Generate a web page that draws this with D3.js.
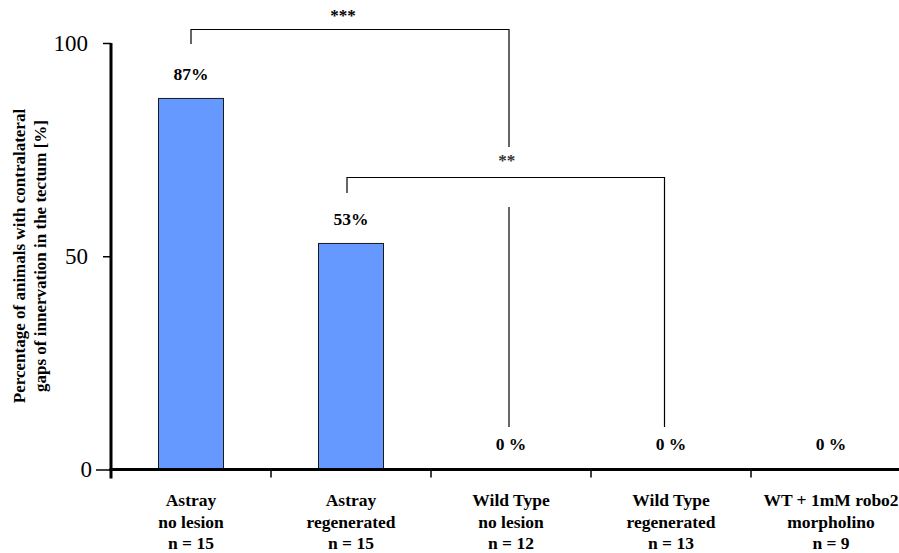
<!DOCTYPE html>
<html>
<head>
<meta charset="utf-8">
<script src="https://cdn.jsdelivr.net/npm/d3@7"></script>
<style>
  html, body { margin: 0; padding: 0; background: #fff; }
  svg { display: block; }
  svg text { font-family: "Liberation Serif", "Times New Roman", serif; fill: #000; }
</style>
</head>
<body>
<svg id="chart" width="899" height="553"></svg>
<script>
// Groups on the x axis (one entry per label line)
const groupLines = [
  ["Astray", "no lesion", "n = 15"],
  ["Astray", "regenerated", "n = 15"],
  ["Wild Type", "no lesion", "n = 12"],
  ["Wild Type", "regenerated", "n = 13"],
  ["WT + 1mM robo2", "morpholino", "n = 9"]
];
const groupIds = ["astray-nl", "astray-reg", "wt-nl", "wt-reg", "wt-robo2"];
// Percentage of animals with gaps of innervation
const percentValues = [87, 53, 0, 0, 0];
const percentLabels = ["87%", "53%", "0 %", "0 %", "0 %"];
const yTicks = [0, 50, 100];
// Significance brackets: [from group, to group, stars]
const brackets = [
  { from: 0, to: 2, stars: "***" },
  { from: 1, to: 3, stars: "**" }
];

const SERIF = "'Liberation Serif', 'Times New Roman', serif";
const svg = d3.select("#chart");
const x0 = 111, y0 = 469.5, yTop = 43;

const x = d3.scaleBand().domain(groupIds).range([x0, x0 + 800]).padding(0);
const y = d3.scaleLinear().domain([0, 100]).range([y0, yTop]);
const cx = i => x(groupIds[i]) + x.bandwidth() / 2;
const barW = 65;

// bars
svg.append("g").selectAll("rect")
  .data(percentValues.map((v, i) => ({ v, i })).filter(d => d.v > 0))
  .join("rect")
  .attr("x", d => cx(d.i) - barW / 2)
  .attr("y", d => y(d.v))
  .attr("width", barW)
  .attr("height", d => y0 - y(d.v))
  .attr("fill", "#6699ff")
  .attr("stroke", "#1a1a1a")
  .attr("stroke-width", 1);

// value labels above bars
svg.append("g").selectAll("text")
  .data(percentValues)
  .join("text")
  .attr("x", (d, i) => cx(i))
  .attr("y", d => d > 0 ? y(d) - 18 : 450)
  .attr("text-anchor", "middle")
  .style("font-weight", "bold")
  .style("font-size", "17.5px")
  .text((d, i) => percentLabels[i]);

// significance brackets
const bg = svg.append("g").attr("fill", "none").attr("stroke", "#000").attr("stroke-width", 1.2);
// *** : Astray no lesion vs Wild Type no lesion
{
  const b = brackets[0];
  const xa = cx(b.from), xb = cx(b.to) - 2, yb = 29.5;
  bg.append("path").attr("d", `M${xa},${yTop + 1}V${yb}H${xb}V147`);
  bg.append("path").attr("d", `M${xb},207V427`);
  svg.append("text").attr("x", (xa + xb) / 2 - 7).attr("y", 21)
    .attr("text-anchor", "middle")
    .style("font-weight", "bold").style("font-size", "17px")
    .text(b.stars);
}
// ** : Astray regenerated vs Wild Type regenerated
{
  const b = brackets[1];
  const xa = cx(b.from) - 4, xb = cx(b.to) - 6.5, yb = 177.5;
  bg.append("path").attr("d", `M${xa},193V${yb}H${xb}V427`);
  svg.append("text").attr("x", (xa + xb) / 2 + 1).attr("y", 166)
    .attr("text-anchor", "middle")
    .style("font-weight", "bold").style("font-size", "17px").style("fill", "#333")
    .text(b.stars);
}

// y axis
const yAxis = svg.append("g")
  .attr("transform", `translate(${x0},0)`)
  .call(d3.axisLeft(y).tickValues(yTicks).tickSize(8).tickFormat(d3.format("d")));
yAxis.attr("font-size", null).attr("font-family", null);
yAxis.select(".domain").attr("stroke-width", 3).attr("d", `M0,${yTop}V${y0 + 1.5}`);
yAxis.selectAll(".tick line").attr("stroke-width", 1.5)
  .attr("x2", d => d === 0 ? -15 : -8);
yAxis.selectAll(".tick text")
  .attr("font-size", 23)
  .style("font-family", SERIF)
  .style("font-size", "23px")
  .style("font-weight", "normal")
  .attr("x", d => d === 0 ? -19 : -23)
  .attr("dy", "0.32em");

// x axis line with boundary ticks
svg.append("line")
  .attr("x1", x0 - 1.5).attr("x2", 899)
  .attr("y1", y0).attr("y2", y0)
  .attr("stroke", "#000").attr("stroke-width", 3);
svg.append("g").selectAll("line")
  .data(groupIds)
  .join("line")
  .attr("x1", d => x(d)).attr("x2", d => x(d))
  .attr("y1", y0).attr("y2", d => x(d) === x0 ? y0 + 9 : y0 + 8)
  .attr("stroke", "#000")
  .attr("stroke-width", d => x(d) === x0 ? 3 : 1.5);

// group labels
const lab = svg.append("g").selectAll("text")
  .data(groupLines)
  .join("text")
  .attr("text-anchor", "middle")
  .style("font-weight", "bold")
  .style("font-size", "17.5px")
  .attr("transform", (d, i) => `translate(${cx(i)},506)`);
lab.selectAll("tspan")
  .data(d => d)
  .join("tspan")
  .attr("x", 0)
  .attr("y", (d, j) => j * 21.5)
  .text(d => d);

// y axis title
const yt = svg.append("text")
  .attr("transform", "translate(25,256) rotate(-90)")
  .attr("text-anchor", "middle")
  .style("font-weight", "bold")
  .style("font-size", "17px");
yt.append("tspan").attr("x", 0).attr("y", 0).text("Percentage of animals with contralateral");
yt.append("tspan").attr("x", 0).attr("y", 21).text("gaps of innervation in the tectum [%]");
</script>
</body>
</html>
